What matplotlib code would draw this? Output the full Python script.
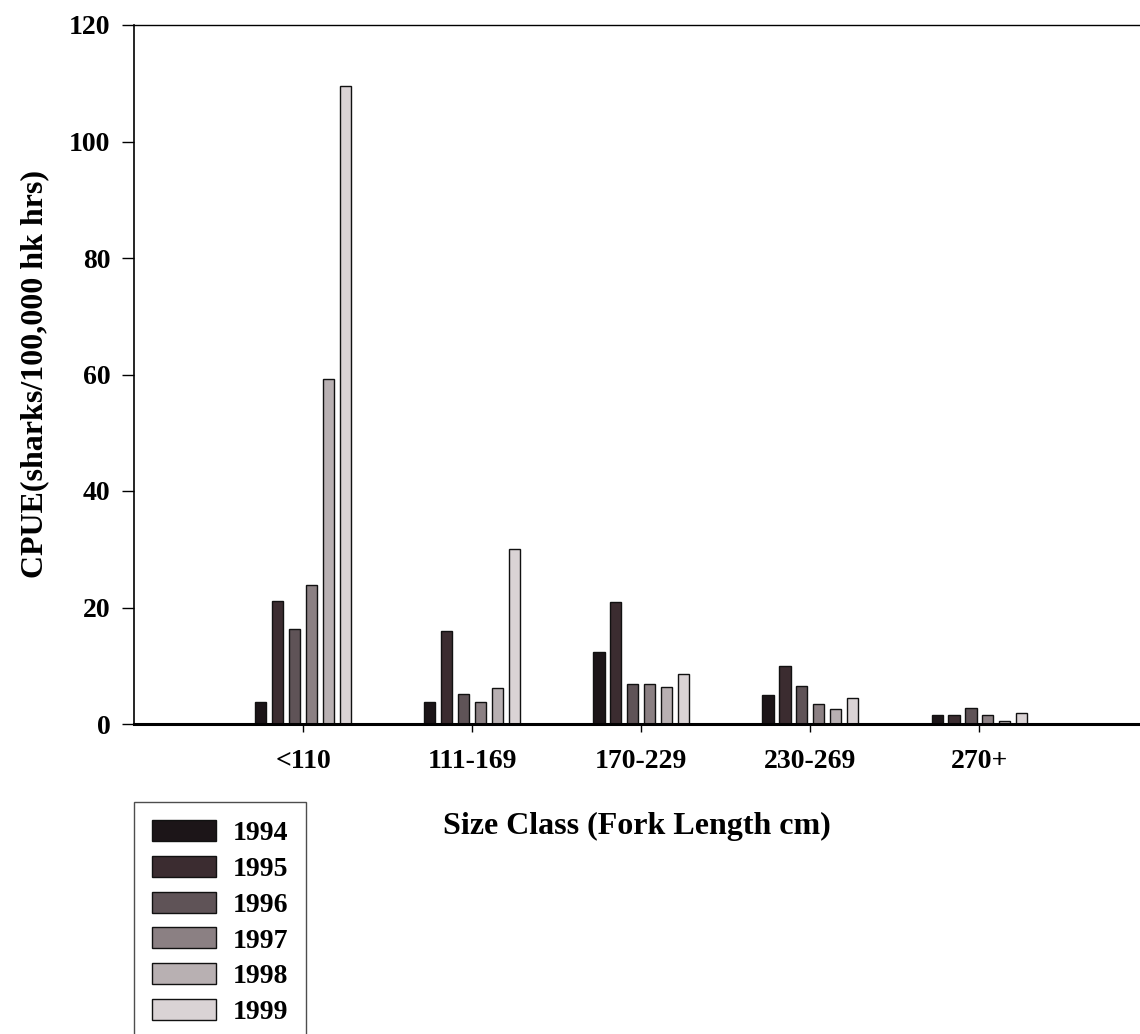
import numpy as np
import matplotlib
matplotlib.use("Agg")
import matplotlib.pyplot as plt

plt.rcParams['font.family'] = ['Liberation Serif', 'DejaVu Serif']
plt.rcParams['font.weight'] = 'bold'

size_classes = ['<110', '111-169', '170-229', '230-269', '270+']
years = ['1994', '1995', '1996', '1997', '1998', '1999']

cpue_1994 = [3.7, 3.7, 12.3, 4.9, 1.5]
cpue_1995 = [21.2, 16.0, 20.9, 9.9, 1.5]
cpue_1996 = [16.3, 5.2, 6.8, 6.5, 2.8]
cpue_1997 = [23.9, 3.7, 6.8, 3.4, 1.5]
cpue_1998 = [59.3, 6.1, 6.3, 2.6, 0.6]
cpue_1999 = [109.5, 30.0, 8.6, 4.4, 1.9]

series = [cpue_1994, cpue_1995, cpue_1996, cpue_1997, cpue_1998, cpue_1999]
colors = ['#1c1518', '#3b2c30', '#5f5357', '#8b8083', '#b8b0b2', '#dad3d5']

fig = plt.figure(figsize=(11.4, 10.34), dpi=100, facecolor='white')
ax = fig.add_axes([134 / 1140, 1 - 724 / 1034, 1 - 134 / 1140, (724 - 25) / 1034])

x = np.arange(len(size_classes))
step = 0.1
width = 0.066
for i, (vals, col, yr) in enumerate(zip(series, colors, years)):
    ax.bar(x + (i - 2.5) * step, vals, width, color=col, edgecolor='#111111',
           linewidth=1.0, label=yr)

ax.set_xlim(-1.0, 4.95)
ax.set_ylim(0, 120)
ax.set_yticks(range(0, 121, 20))
ax.set_xticks(x)
ax.set_xticklabels(size_classes)
ax.tick_params(axis='both', labelsize=20, direction='out')
ax.tick_params(axis='y', length=9, width=1, pad=8)
ax.tick_params(axis='x', length=6, width=1, pad=12)

ax.spines['right'].set_visible(False)
ax.spines['bottom'].set_linewidth(2.2)
ax.spines['left'].set_linewidth(1.2)
ax.spines['top'].set_linewidth(1.0)

ax.set_ylabel('CPUE(sharks/100,000 hk hrs)', fontsize=23, fontweight='bold', labelpad=14)
fig.text((134 + 1140) / 2 / 1140, 1 - 826 / 1034, 'Size Class (Fork Length cm)',
         fontsize=23, fontweight='bold', ha='center', va='center')

leg = fig.legend(loc='upper left', bbox_to_anchor=(134 / 1140, 1 - 802 / 1034),
                 fontsize=20, frameon=True, fancybox=False, edgecolor='#222222',
                 handlelength=2.3, handleheight=0.8, handletextpad=0.6,
                 labelspacing=0.34, borderpad=0.65, borderaxespad=0)
leg.get_frame().set_linewidth(1.0)

fig.savefig('out.png', dpi=100, facecolor='white')
